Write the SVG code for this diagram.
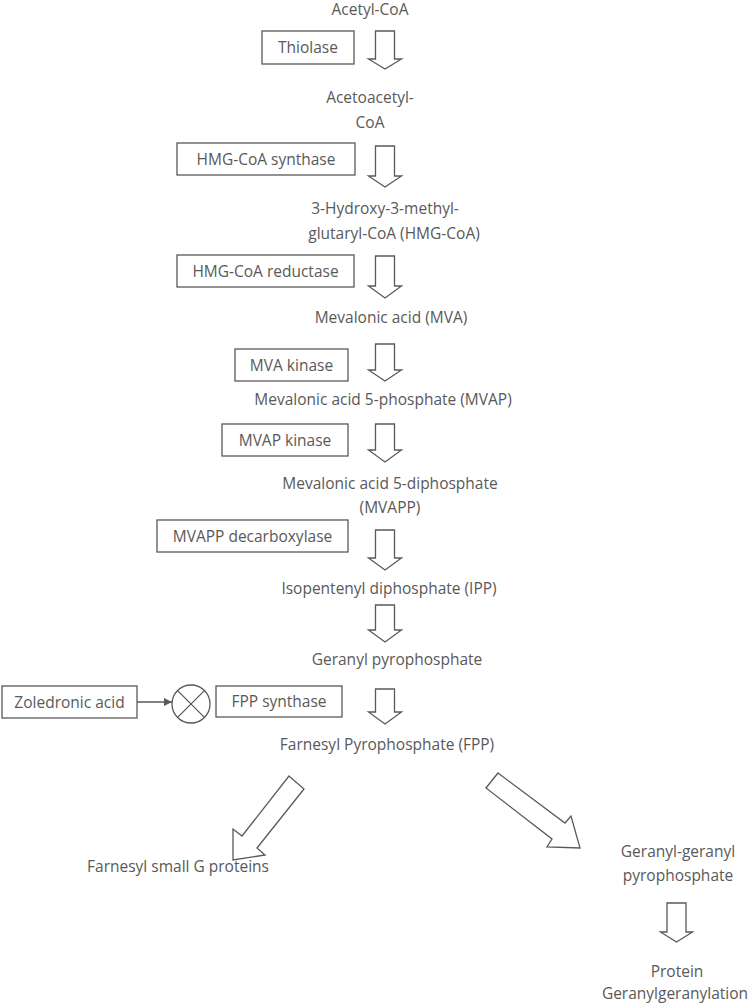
<svg xmlns="http://www.w3.org/2000/svg" width="750" height="1004" viewBox="0 0 750 1004">
<defs>
<style>
text{font-family:"Open Sans","Liberation Sans",sans-serif;font-size:15.5px;fill:#595959;text-anchor:middle}
.box{fill:#fff;stroke:#595959;stroke-width:1.3}
.arr{fill:#fff;stroke:#595959;stroke-width:1.3;stroke-linejoin:miter}
.ln{stroke:#595959;stroke-width:1.3;fill:none}
</style>
<marker id="ah" viewBox="0 0 10 10" refX="10" refY="5" markerWidth="8" markerHeight="8" markerUnits="userSpaceOnUse" orient="auto"><path d="M0,0 L10,5 L0,10 z" fill="#595959"/></marker>
</defs>
<rect width="750" height="1004" fill="#fff"/>
<g id="connectors">
<path class="arr" d="M375.5,31 H394.5 V59 H401.5 L385,69 L368.5,59 H375.5 Z"/>
<path class="arr" d="M375.5,146 H394.5 V176 H401.5 L385,187 L368.5,176 H375.5 Z"/>
<path class="arr" d="M375.5,256 H394.5 V286 H401.5 L385,298 L368.5,286 H375.5 Z"/>
<path class="arr" d="M375.5,344 H394.5 V370 H401.5 L385,381 L368.5,370 H375.5 Z"/>
<path class="arr" d="M375.5,424 H394.5 V450 H401.5 L385,462 L368.5,450 H375.5 Z"/>
<path class="arr" d="M375.5,530 H394.5 V558 H401.5 L385,570 L368.5,558 H375.5 Z"/>
<path class="arr" d="M375.5,605 H394.5 V630 H401.5 L385,642 L368.5,630 H375.5 Z"/>
<path class="arr" d="M375.5,689 H394.5 V712 H401.5 L385,724 L368.5,712 H375.5 Z"/>
<path class="arr" d="M289,776 L304,789 L257,848 L265,855 L233,860 L233,829 L242,836 Z"/>
<path class="arr" d="M498,773 L565,823 L571,816 L580,848 L547,847 L552,839 L486,788 Z"/>
<path class="arr" d="M667,903 H686 V932 H692.5 L676.5,942 L660.5,932 H667 Z"/>
<line class="ln" x1="137" y1="702" x2="172" y2="702" marker-end="url(#ah)"/>
</g>
<g id="n-acetylcoa"><text x="370" y="15">Acetyl-CoA</text></g>
<g id="n-thiolase"><rect class="box" x="262" y="31" width="92" height="33"/><text x="308" y="53">Thiolase</text></g>
<g id="n-acetoacetyl"><text x="370" y="103">Acetoacetyl-</text><text x="370" y="128">CoA</text></g>
<g id="n-hmgsynthase"><rect class="box" x="177" y="143" width="178" height="32"/><text x="266" y="165">HMG-CoA synthase</text></g>
<g id="n-hmgcoa"><text x="385" y="214">3-Hydroxy-3-methyl-</text><text x="394" y="239">glutaryl-CoA (HMG-CoA)</text></g>
<g id="n-hmgreductase"><rect class="box" x="177" y="255" width="177" height="32"/><text x="265.5" y="277">HMG-CoA reductase</text></g>
<g id="n-mva"><text x="391" y="323">Mevalonic acid (MVA)</text></g>
<g id="n-mvakinase"><rect class="box" x="235" y="349" width="113" height="32"/><text x="291.5" y="371">MVA kinase</text></g>
<g id="n-mvap"><text x="383" y="405">Mevalonic acid 5-phosphate (MVAP)</text></g>
<g id="n-mvapkinase"><rect class="box" x="222" y="424" width="126" height="32"/><text x="285" y="446">MVAP kinase</text></g>
<g id="n-mvapp"><text x="390" y="489">Mevalonic acid 5-diphosphate</text><text x="390" y="513">(MVAPP)</text></g>
<g id="n-decarb"><rect class="box" x="157" y="520" width="191" height="32"/><text x="252.5" y="542">MVAPP decarboxylase</text></g>
<g id="n-ipp"><text x="389" y="594">Isopentenyl diphosphate (IPP)</text></g>
<g id="n-gpp"><text x="397" y="665">Geranyl pyrophosphate</text></g>
<g id="n-zoledronic"><rect class="box" x="2" y="686" width="135" height="32"/><text x="69.5" y="708">Zoledronic acid</text></g>
<g id="n-inhibit"><circle class="box" cx="191" cy="704" r="19"/><path class="ln" d="M177.6,690.6 L204.4,717.4 M204.4,690.6 L177.6,717.4"/></g>
<g id="n-fppsynthase"><rect class="box" x="216" y="686" width="126" height="31"/><text x="279" y="707">FPP synthase</text></g>
<g id="n-fpp"><text x="387" y="750">Farnesyl Pyrophosphate (FPP)</text></g>
<g id="n-farnesylg"><text x="178" y="872">Farnesyl small G proteins</text></g>
<g id="n-ggpp"><text x="678" y="857">Geranyl-geranyl</text><text x="678" y="881">pyrophosphate</text></g>
<g id="n-protein"><text x="677" y="977">Protein</text><text x="675" y="999">Geranylgeranylation</text></g>
</svg>
